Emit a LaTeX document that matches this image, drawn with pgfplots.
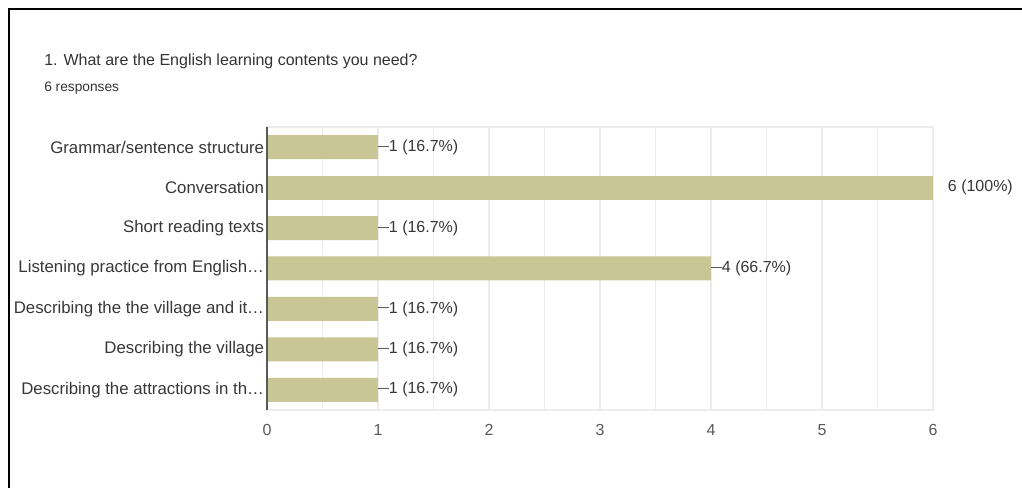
\documentclass[border=0pt]{standalone}
\usepackage{pgfplots}
\pgfplotsset{compat=1.18}
\usepackage{fontspec}
\setmainfont{Liberation Sans}
\definecolor{barcol}{RGB}{201,198,150}
\definecolor{gridcol}{RGB}{236,236,236}
\definecolor{labcol}{RGB}{55,55,55}
\definecolor{tickcol}{RGB}{90,90,90}
\newcommand\lead{\textcolor{tickcol}{\rule[3.6pt]{8pt}{0.6pt}}}
\begin{document}
\begin{tikzpicture}
\path[use as bounding box] (0,0) rectangle (766.5pt,366pt);
\draw[line width=1.5pt,black] (6.75pt,0) -- (6.75pt,359.25pt) -- (766.5pt,359.25pt);
\node[anchor=base west,inner sep=0,text=black!80,font=\fontsize{12}{15}\selectfont] at (33pt,316.5pt) {1. What are the English learning contents you need?};
\node[anchor=base west,inner sep=0,text=black!80,font=\fontsize{10.3}{12}\selectfont] at (33pt,297pt) {6 responses};
\begin{axis}[
  at={(200.25pt,58.5pt)}, anchor=south west,
  scale only axis, width=499.5pt, height=212.25pt,
  xbar, bar width=18pt, bar shift=0pt,
  xmin=0, xmax=6, ymin=-0.5, ymax=6.5, y dir=reverse,
  xtick={0,1,2,3,4,5,6},
  minor x tick num=1,
  ytick={0,1,2,3,4,5,6},
  yticklabels={Grammar/sentence structure, Conversation, Short reading texts, Listening practice from English\dots, Describing the the village and it\dots, Describing the village, Describing the attractions in th\dots},
  major tick length=0pt, minor tick length=0pt,
  xmajorgrids, xminorgrids,
  grid style={gridcol, line width=0.8pt},
  minor grid style={gridcol, line width=0.8pt},
  axis line style={gridcol, line width=0.8pt},
  yticklabel style={text=labcol, font=\fontsize{12.6}{14}\selectfont, inner xsep=2pt},
  xticklabel style={text=tickcol, font=\fontsize{12}{14}\selectfont, yshift=-7.5pt},
  /pgf/number format/assume math mode=true,
  point meta=explicit symbolic,
  nodes near coords,
  every node near coord/.append style={font=\fontsize{12}{14}\selectfont, text=labcol, anchor=west, inner sep=0pt},
  clip=false,
]
\addplot[fill=barcol, draw=none, nodes near coords={\lead\pgfplotspointmeta}] coordinates {
  (1,0) [1 (16.7\%)]
  (1,2) [1 (16.7\%)]
  (4,3) [4 (66.7\%)]
  (1,4) [1 (16.7\%)]
  (1,5) [1 (16.7\%)]
  (1,6) [1 (16.7\%)]
};
\addplot[fill=barcol, draw=none, every node near coord/.append style={xshift=11pt}] coordinates {
  (6,1) [6 (100\%)]
};
\draw[tickcol, line width=1pt] (axis cs:0,-0.5) -- (axis cs:0,6.5);
\end{axis}
\end{tikzpicture}
\end{document}
